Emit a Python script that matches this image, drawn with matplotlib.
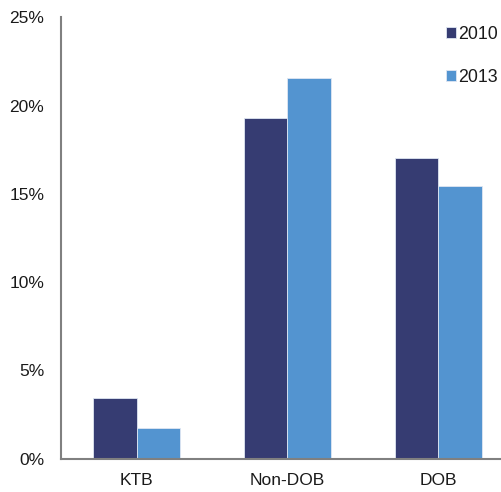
import numpy as np
import matplotlib.pyplot as plt

plt.rcParams['font.family'] = ['Liberation Sans', 'DejaVu Sans']

categorias = ['KTB', 'Non-DOB', 'DOB']
anios = ['2010', '2013']
v2010 = [3.45, 19.27, 17.04]  # porcentaje
v2013 = [1.72, 21.54, 15.46]
yticks = [0, 5, 10, 15, 20, 25]
colores = ['#363c72', '#5394d0']

fig = plt.figure(figsize=(5.01, 4.92), dpi=100)
ax = fig.add_axes([0.1218, 0.0677, 0.904, 0.8971])

x = np.arange(len(categorias))
w = 0.287
ax.bar(x - w/2, v2010, w, color=colores[0], edgecolor='#dfe6f2', linewidth=0.6, label=anios[0])
ax.bar(x + w/2, v2013, w, color=colores[1], edgecolor='#dfe6f2', linewidth=0.6, label=anios[1])

ax.set_xlim(-0.5, 2.5)
ax.set_ylim(0, 25)
ax.set_xticks(x)
ax.set_xticklabels(categorias)
ax.set_yticks(yticks)
ax.set_yticklabels(['%d%%' % t for t in yticks])
ax.tick_params(axis='y', length=0, pad=12, labelsize=12.5, colors='#1a1a1a')
ax.tick_params(axis='x', length=0, pad=10, labelsize=12.5, colors='#1a1a1a')

for s in ['top', 'right']:
    ax.spines[s].set_visible(False)
for s in ['left', 'bottom']:
    ax.spines[s].set_color('#808080')
    ax.spines[s].set_linewidth(1.5)

ax.legend(loc='upper right', bbox_to_anchor=(1.026, 0.98), bbox_transform=fig.transFigure,
          frameon=False, fontsize=12.8, handlelength=0.55, handleheight=0.55,
          handletextpad=0.15, labelspacing=1.45, labelcolor='#1a1a1a')

fig.savefig('out.png', dpi=100)
